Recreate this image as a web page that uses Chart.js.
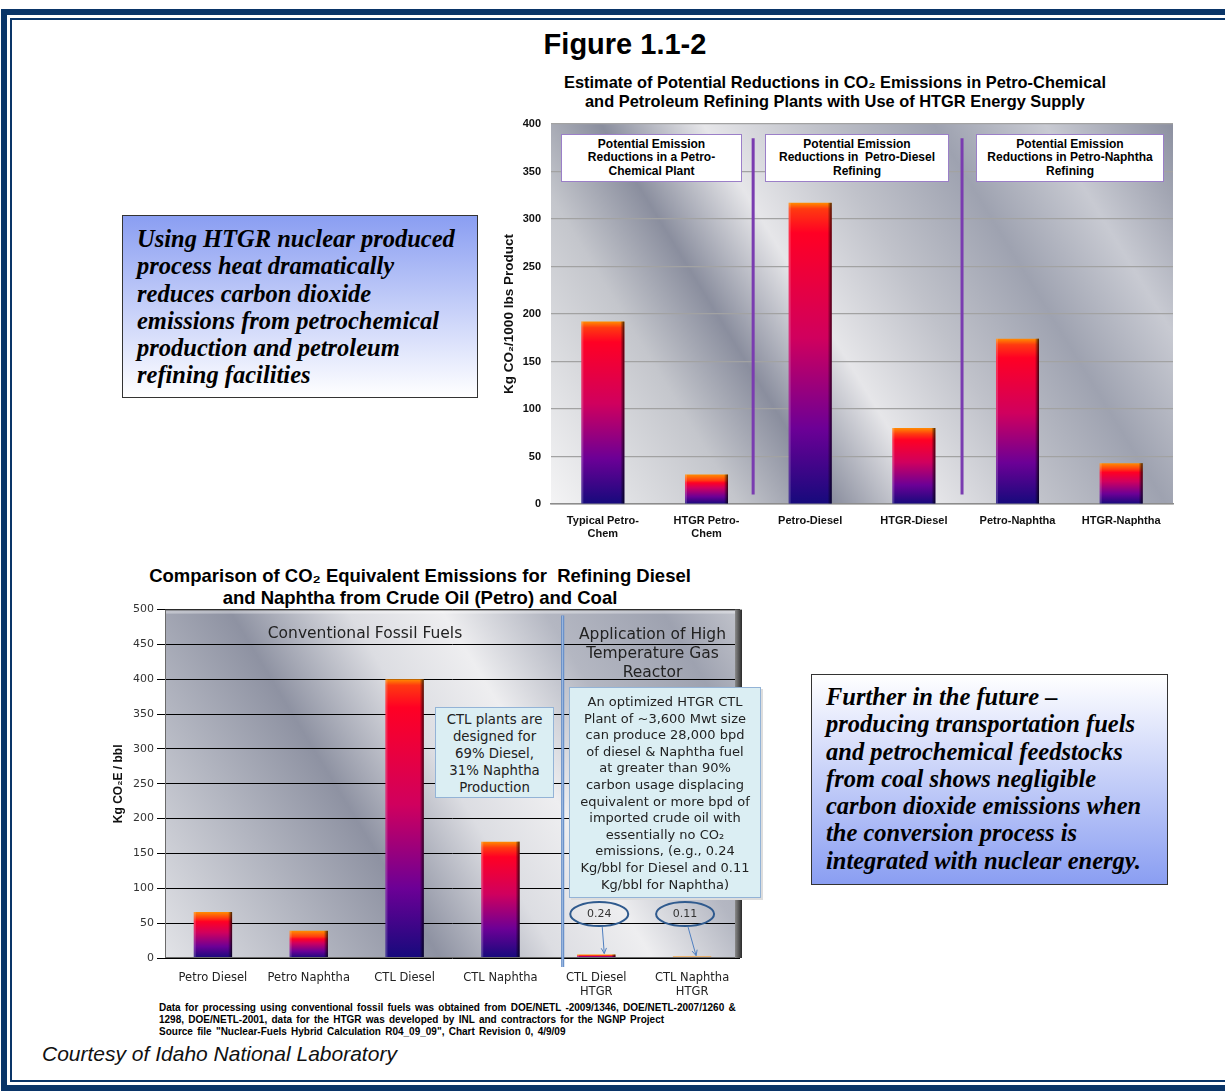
<!DOCTYPE html>
<html>
<head>
<meta charset="utf-8">
<script src="https://cdn.jsdelivr.net/npm/chart.js@4/dist/chart.umd.min.js"></script>
<style>
  body { margin: 0; width: 1225px; height: 1091px; position: relative; overflow: hidden; background: #fff; font-family: "Liberation Sans", Arial, sans-serif; }
  .abs { position: absolute; }
  #frame1 { left: 1px; top: 9px; width: 1260px; height: 1082px; border: 6px solid #0a3568; box-sizing: border-box; }
  #frame2 { left: 10px; top: 18px; width: 1240px; height: 1064px; border: 2px solid #0a3568; box-sizing: border-box; }
  #figTitle { left: 425px; width: 400px; top: 28px; text-align: center; font: bold 29px "Liberation Sans", Arial, sans-serif; }
  .ctitle { text-align: center; font-weight: bold; color: #000; white-space: nowrap; }
  .pbox { background: #fff; border: 1px solid #9b7fc8; text-align: center; font: bold 12px/13.3px "Liberation Sans", Arial, sans-serif; padding-top: 3px; box-sizing: border-box; white-space: nowrap; }
  .note { background: linear-gradient(#8a9ef2, #ffffff); border: 1.5px solid #333; box-sizing: border-box; font: italic bold 24.5px/27.3px "Liberation Serif", "Times New Roman", serif; padding: 9px 0 0 14px; color: #000; white-space: nowrap; }
  .call { background: #dbeef3; border: 1px solid #93b3d6; text-align: center; box-sizing: border-box; font-family: "DejaVu Sans", sans-serif; color: #222; white-space: nowrap; }
  .reg { text-align: center; font: 15.5px/19px "DejaVu Sans", sans-serif; color: #222; white-space: nowrap; }
  #foot { left: 159px; top: 1002px; font: bold 10px/12px "Liberation Sans Narrow", "Liberation Sans", sans-serif; word-spacing: 1.5px; color: #000; }
  #courtesy { left: 42px; top: 1042px; font: italic 21px "Liberation Sans Narrow", "Liberation Sans", sans-serif; color: #111; }
</style>
</head>
<body>
<div id="frame1" class="abs"></div>
<div id="frame2" class="abs"></div>
<div id="figTitle" class="abs">Figure 1.1-2</div>

<div class="abs ctitle" style="left:535px;width:600px;top:73px;font-size:16.4px;line-height:19px;">Estimate of Potential Reductions in CO₂ Emissions in Petro-Chemical<br>and Petroleum Refining Plants with Use of HTGR Energy Supply</div>
<div class="abs" style="left:495px;top:115px;width:690px;height:435px;"><canvas id="topChart"></canvas></div>
<div class="abs pbox" style="left:561px;top:134px;width:181px;height:48px;">Potential Emission<br>Reductions in a Petro-<br>Chemical Plant</div>
<div class="abs pbox" style="left:765px;top:134px;width:184px;height:48px;">Potential Emission<br>Reductions in &nbsp;Petro-Diesel<br>Refining</div>
<div class="abs pbox" style="left:976px;top:134px;width:188px;height:48px;">Potential Emission<br>Reductions in Petro-Naphtha<br>Refining</div>

<div class="abs note" style="left:122px;top:215px;width:356px;height:183px;">Using HTGR nuclear produced<br>process heat dramatically<br>reduces carbon dioxide<br>emissions from petrochemical<br>production and petroleum<br>refining facilities</div>

<div class="abs ctitle" style="left:120px;top:565px;width:600px;font-size:18.5px;line-height:22px;">Comparison of CO₂ Equivalent Emissions for &nbsp;Refining Diesel<br>and Naphtha from Crude Oil (Petro) and Coal</div>
<div class="abs" style="left:100px;top:600px;width:660px;height:400px;"><canvas id="botChart"></canvas></div>
<div class="abs reg" style="left:215px;top:624px;width:300px;">Conventional Fossil Fuels</div>
<div class="abs reg" style="left:565px;top:625px;width:175px;">Application of High<br>Temperature Gas<br>Reactor</div>
<div class="abs call" style="left:435px;top:707px;width:119px;height:91px;font-size:13.3px;line-height:17px;padding-top:3px;">CTL plants are<br>designed for<br>69% Diesel,<br>31% Naphtha<br>Production</div>
<div class="abs call" style="left:569px;top:687px;width:192px;height:211px;font-size:13px;line-height:16.6px;padding-top:6px;box-shadow:2px 2px 0 #ddd;">An optimized HTGR CTL<br>Plant of ~3,600 Mwt size<br>can produce 28,000 bpd<br>of diesel &amp; Naphtha fuel<br>at greater than 90%<br>carbon usage displacing<br>equivalent or more bpd of<br>imported crude oil with<br>essentially no CO₂<br>emissions, (e.g., 0.24<br>Kg/bbl for Diesel and 0.11<br>Kg/bbl for Naphtha)</div>

<div class="abs note" style="left:811px;top:674px;width:357px;height:211px;background:linear-gradient(#ffffff,#8a9ef2);padding-top:8px;">Further in the future –<br>producing transportation fuels<br>and petrochemical feedstocks<br>from coal shows negligible<br>carbon dioxide emissions when<br>the conversion process is<br>integrated with nuclear energy.</div>

<div id="foot" class="abs">Data for processing using conventional fossil fuels was obtained from DOE/NETL -2009/1346, DOE/NETL-2007/1260 &amp;<br>1298, DOE/NETL-2001, data for the HTGR was developed by INL and contractors for the NGNP Project<br>Source file "Nuclear-Fuels Hybrid Calculation R04_09_09", Chart Revision 0, 4/9/09</div>
<div id="courtesy" class="abs">Courtesy of Idaho National Laboratory</div>

<script>
// grafica de arriba: reducciones con HTGR
const topCategories = [['Typical Petro-', 'Chem'], ['HTGR Petro-', 'Chem'], 'Petro-Diesel', 'HTGR-Diesel', 'Petro-Naphtha', 'HTGR-Naphtha'];
const topValues = [192, 31, 317, 80, 174, 43];
const topMax = 400;
const topStep = 50;

// grafica de abajo: CO2 equivalente por barril
const botCategories = ['Petro Diesel', 'Petro Naphtha', 'CTL Diesel', 'CTL Naphtha', ['CTL Diesel', 'HTGR'], ['CTL Naphtha', 'HTGR']];
const botValues = [66, 39, 400, 167, 5, 2];
const botMax = 500;
const botStep = 50;
const botCalloutLabels = ['0.24', '0.11'];

Chart.defaults.animation = false;
Chart.defaults.font.family = '"Liberation Sans", Arial, sans-serif';

function barFill(ctx) {
    let chart = ctx.chart;
    if (!chart.chartArea || ctx.type !== 'data') return '#c00060';
    let y = chart.scales.y;
    let top = y.getPixelForValue(ctx.raw);
    let bot = y.getPixelForValue(0);
    let h = Math.max(bot - top, 1);
    let g = chart.ctx.createLinearGradient(0, top, 0, bot);
    let cap = Math.min(6 / h, 0.3);
    g.addColorStop(0, '#ff8c00');
    g.addColorStop(cap, '#ff3a10');
    g.addColorStop(Math.min(cap + 0.08, 0.44), '#ff0024');
    g.addColorStop(0.45, '#d0005e');
    g.addColorStop(0.75, '#6c0096');
    g.addColorStop(1, '#160a7c');
    return g;
}

// fondo metalico del area de la grafica
const metal = {
    id: 'metal',
    beforeDraw(chart, args, opts) {
        let { ctx, chartArea: a } = chart;
        let g = ctx.createLinearGradient(a.left, a.bottom, a.right, a.top);
        opts.stops.forEach(s => g.addColorStop(s[0], s[1]));
        ctx.save();
        ctx.fillStyle = g;
        ctx.fillRect(a.left, a.top, a.width, a.height);
        ctx.restore();
    }
};

// sombra a la derecha de cada barra
const bevel = {
    id: 'bevel',
    afterDatasetsDraw(chart) {
        let c = chart.ctx;
        c.save();
        chart.getDatasetMeta(0).data.forEach(b => {
            let r = b.x + b.width / 2;
            let h = b.base - b.y;
            if (h < 1) return;
            let g = c.createLinearGradient(r - 4, 0, r, 0);
            g.addColorStop(0, 'rgba(0,0,0,0)');
            g.addColorStop(1, 'rgba(0,0,0,0.75)');
            c.fillStyle = g;
            c.fillRect(r - 4, b.y, 4, h);
            c.fillStyle = 'rgba(255,255,255,0.18)';
            c.fillRect(b.x - b.width / 2, b.y, 2, h);
        });
        c.restore();
    }
};

// lineas moradas que separan los grupos
const topDividers = {
    id: 'topDividers',
    afterDraw(chart) {
        let { ctx, scales: { x, y } } = chart;
        ctx.save();
        ctx.strokeStyle = '#7a3cb0';
        ctx.lineWidth = 3;
        [1.45, 3.465].forEach(v => {
            let px = x.getPixelForValue(v);
            ctx.beginPath();
            ctx.moveTo(px, y.getPixelForValue(385));
            ctx.lineTo(px, y.getPixelForValue(10));
            ctx.stroke();
        });
        ctx.restore();
    }
};

// marco, linea azul, ovalos y flechas de la grafica de abajo
const botExtras = {
    id: 'botExtras',
    afterDraw(chart) {
        let { ctx, chartArea: a, scales: { x, y } } = chart;
        ctx.save();
        // marco biselado
        ctx.strokeStyle = '#6a6a6a';
        ctx.lineWidth = 1;
        ctx.strokeRect(a.left + 0.5, a.top + 0.5, a.width - 1, a.height - 1);
        let g = ctx.createLinearGradient(a.right - 5, 0, a.right + 2, 0);
        g.addColorStop(0, '#8a8a8a');
        g.addColorStop(1, '#2a2a2a');
        ctx.fillStyle = g;
        ctx.fillRect(a.right - 5, a.top, 7, a.height);
        ctx.fillStyle = 'rgba(255,255,255,0.35)';
        ctx.fillRect(a.left + 1, a.top + 1, a.width - 6, 3);
        // linea azul vertical
        let lx = x.getPixelForValue(3.65);
        ctx.strokeStyle = '#5b86c4';
        ctx.lineWidth = 3;
        ctx.beginPath();
        ctx.moveTo(lx, a.top + 6);
        ctx.lineTo(lx, a.bottom + 9);
        ctx.stroke();
        ctx.strokeStyle = '#a9c3e6';
        ctx.lineWidth = 1;
        ctx.beginPath();
        ctx.moveTo(lx, a.top + 6);
        ctx.lineTo(lx, a.bottom + 9);
        ctx.stroke();
        // ovalos con valores
        let bars = chart.getDatasetMeta(0).data;
        let offsets = [3, -7];
        [4, 5].forEach((idx, k) => {
            let cx = bars[idx].x + offsets[k];
            let cy = y.getPixelForValue(63);
            ctx.strokeStyle = '#2f5a8e';
            ctx.lineWidth = 2;
            ctx.beginPath();
            ctx.ellipse(cx, cy, 29, 12, 0, 0, Math.PI * 2);
            ctx.stroke();
            ctx.fillStyle = '#333';
            ctx.font = '11px "DejaVu Sans", sans-serif';
            ctx.textAlign = 'center';
            ctx.textBaseline = 'middle';
            ctx.fillText(botCalloutLabels[k], cx, cy);
            // flecha
            let sx = cx + 3;
            let sy = cy + 13;
            let ex = bars[idx].x + (k === 0 ? 8 : 4);
            let ey = bars[idx].y - 1;
            ctx.strokeStyle = '#4f7fc0';
            ctx.lineWidth = 1;
            ctx.beginPath();
            ctx.moveTo(sx, sy);
            ctx.lineTo(ex, ey);
            ctx.stroke();
            let ang = Math.atan2(ey - sy, ex - sx);
            ctx.beginPath();
            ctx.moveTo(ex - 6 * Math.cos(ang - 0.45), ey - 6 * Math.sin(ang - 0.45));
            ctx.lineTo(ex, ey);
            ctx.lineTo(ex - 6 * Math.cos(ang + 0.45), ey - 6 * Math.sin(ang + 0.45));
            ctx.stroke();
        });
        ctx.restore();
    }
};

new Chart(document.getElementById('topChart'), {
    type: 'bar',
    data: {
        labels: topCategories,
        datasets: [{
            data: topValues,
            backgroundColor: barFill,
            borderWidth: 0,
            barPercentage: 0.415,
            categoryPercentage: 1
        }]
    },
    plugins: [metal, bevel, topDividers],
    options: {
        responsive: true,
        maintainAspectRatio: false,
        layout: { padding: { left: 6, top: 9, right: 12, bottom: 0 } },
        plugins: {
            legend: { display: false },
            tooltip: { enabled: false },
            metal: {
                stops: [[0, '#f4f4f5'], [0.22, '#c4c6cc'], [0.33, '#8a8e9e'], [0.45, '#e6e6e9'], [0.58, '#c0c2ca'], [0.72, '#9ea2b0'], [0.85, '#c8cad2'], [1, '#8c90a0']]
            }
        },
        scales: {
            x: {
                grid: { display: false, drawTicks: false },
                border: { display: true, color: '#8c8c8c', width: 1.5 },
                ticks: { color: '#111', padding: 10, maxRotation: 0, autoSkip: false, font: { size: 11, weight: 'bold' } },
                afterFit(s) { s.height = 46; }
            },
            y: {
                min: 0,
                max: topMax,
                ticks: { stepSize: topStep, color: '#111', padding: 0, font: { size: 11, weight: 'bold' } },
                grid: { color: '#a2a2a2', lineWidth: 1.2, drawTicks: true, tickLength: 10, tickColor: 'rgba(0,0,0,0)' },
                border: { display: false },
                title: { display: true, text: 'Kg CO₂/1000 lbs Product', color: '#111', padding: 0, font: { size: 13.5, weight: 'bold' } },
                afterFit(s) { s.width = 50; }
            }
        }
    }
});

new Chart(document.getElementById('botChart'), {
    type: 'bar',
    data: {
        labels: botCategories,
        datasets: [{
            data: botValues,
            backgroundColor: barFill,
            borderWidth: 0,
            barPercentage: 0.4,
            categoryPercentage: 1
        }]
    },
    plugins: [metal, bevel, botExtras],
    options: {
        responsive: true,
        maintainAspectRatio: false,
        layout: { padding: { left: 11, top: 9, right: 20, bottom: 0 } },
        plugins: {
            legend: { display: false },
            tooltip: { enabled: false },
            metal: {
                stops: [[0, '#e2e3e7'], [0.2, '#b2b5c0'], [0.35, '#8e92a2'], [0.5, '#dcdde2'], [0.62, '#eeeef0'], [0.75, '#b4b7c2'], [0.9, '#9ea2b0'], [1, '#c2c4cc']]
            }
        },
        scales: {
            x: {
                grid: { display: false, drawTicks: false },
                border: { display: false },
                ticks: { color: '#222', padding: 13, maxRotation: 0, autoSkip: false, font: { family: '"DejaVu Sans", sans-serif', size: 11.5 } },
                afterFit(s) { s.height = 42; }
            },
            y: {
                min: 0,
                max: botMax,
                ticks: { stepSize: botStep, color: '#333', padding: 3, font: { family: '"DejaVu Sans", sans-serif', size: 11 } },
                grid: { color: '#000', lineWidth: 1, drawTicks: true, tickLength: 8, tickColor: '#000' },
                border: { display: false },
                title: { display: true, text: 'Kg CO₂E / bbl', color: '#111', padding: 0, font: { size: 12, weight: 'bold' } },
                afterFit(s) { s.width = 54; }
            }
        }
    }
});
</script>
</body>
</html>
